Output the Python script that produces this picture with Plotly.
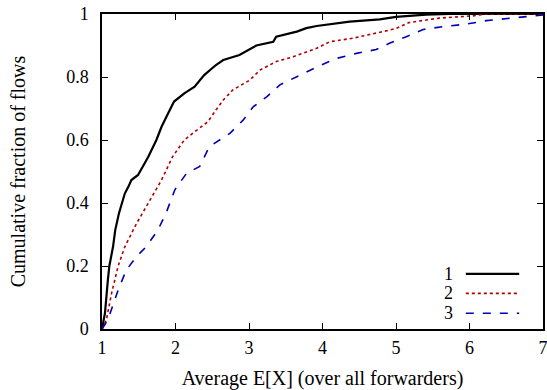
import plotly.graph_objects as go

# Curve 1 (black solid)
x1 = [1.0, 1.04, 1.08, 1.10, 1.15, 1.18, 1.23, 1.31, 1.36, 1.40, 1.49, 1.63, 1.74, 1.81, 1.90, 1.98,
      2.12, 2.26, 2.39, 2.55, 2.65, 2.87, 3.10, 3.33, 3.37, 3.65, 3.78, 3.92, 4.37, 4.78, 5.0, 5.41, 5.73, 7.0]
y1 = [0.0, 0.05, 0.156, 0.20, 0.261, 0.314, 0.367, 0.43, 0.452, 0.473, 0.489, 0.547, 0.60, 0.642, 0.685, 0.722,
      0.748, 0.769, 0.806, 0.838, 0.854, 0.87, 0.90, 0.912, 0.928, 0.944, 0.955, 0.962, 0.976, 0.983, 0.991, 0.998, 1.0, 1.0]

# Curve 2 (red dotted)
x2 = [1.0, 1.06, 1.13, 1.22, 1.31, 1.47, 1.63, 1.81, 1.96, 2.12, 2.26, 2.44, 2.55, 2.65, 2.78,
      3.01, 3.15, 3.37, 3.60, 3.92, 4.10, 4.41, 4.82, 5.0, 5.18, 5.59, 6.04, 6.23, 7.0]
y2 = [0.0, 0.029, 0.113, 0.20, 0.261, 0.335, 0.40, 0.473, 0.547, 0.60, 0.626, 0.658, 0.695, 0.727, 0.759,
      0.79, 0.822, 0.849, 0.864, 0.891, 0.912, 0.923, 0.944, 0.954, 0.973, 0.987, 0.994, 1.0, 1.0]

# Curve 3 (blue dashed)
x3 = [1.0, 1.08, 1.22, 1.33, 1.47, 1.60, 1.76, 1.87, 1.99, 2.02, 2.15, 2.33, 2.46, 2.74, 2.92,
      3.06, 3.24, 3.42, 3.65, 3.96, 4.19, 4.46, 4.73, 4.91, 5.14, 5.37, 5.64, 5.96, 6.23, 6.54, 6.86, 7.0]
y3 = [0.0, 0.029, 0.124, 0.187, 0.23, 0.261, 0.314, 0.367, 0.441, 0.452, 0.494, 0.516, 0.579, 0.621, 0.663,
      0.706, 0.737, 0.775, 0.801, 0.836, 0.859, 0.875, 0.887, 0.907, 0.928, 0.951, 0.96, 0.968, 0.979, 0.987, 0.995, 0.997]

labels = ["1", "2", "3"]
colors = ["#000000", "#b00000", "#0000b0"]
dashes = ["solid", "3px,3px", "8px,9px"]
widths = [2.2, 1.6, 1.6]

x_ticks = [1, 2, 3, 4, 5, 6, 7]
y_ticks = [0, 0.2, 0.4, 0.6, 0.8, 1]
y_ticktext = ["0", "0.2", "0.4", "0.6", "0.8", "1"]

font = "'Liberation Serif', 'Times New Roman', 'DejaVu Serif', serif"

fig = go.Figure()
for xs, ys, c, d, w, name in zip([x1, x2, x3], [y1, y2, y3], colors, dashes, widths, labels):
    fig.add_trace(go.Scatter(x=xs, y=ys, mode="lines", name=name,
                             line=dict(color=c, dash=d, width=w, shape="linear"),
                             showlegend=False, hoverinfo="skip"))

# Manual gnuplot-style legend (text left, sample right)
leg_y = [0.175, 0.113, 0.050]
for lab, c, d, w, ly in zip(labels, colors, dashes, widths, leg_y):
    fig.add_annotation(x=0.80, y=ly, xref="paper", yref="paper", text=lab, showarrow=False,
                       xanchor="right", yanchor="middle", font=dict(family=font, size=18, color="black"))
    fig.add_shape(type="line", xref="paper", yref="paper", x0=0.825, x1=0.946, y0=ly, y1=ly,
                  line=dict(color=c, dash=d, width=w))

axis_common = dict(
    showline=True, linecolor="black", linewidth=1.5, mirror="allticks",
    ticks="inside", ticklen=6, tickwidth=1.2, tickcolor="black",
    showgrid=False, zeroline=False, automargin=False,
    tickfont=dict(family=font, size=18, color="black"),
)

fig.update_layout(
    template="none",
    width=547, height=390,
    margin=dict(l=102, r=4, t=14, b=61),
    paper_bgcolor="white", plot_bgcolor="white",
    font=dict(family=font, color="black"),
    xaxis=dict(range=[1, 7], tickvals=x_ticks, ticklabelstandoff=2, ticklabeloverflow="allow",
               title=dict(text="Average E[X] (over all forwarders)", standoff=14,
                          font=dict(family=font, size=20, color="black")),
               **axis_common),
    yaxis=dict(range=[0, 1], tickvals=y_ticks, ticktext=y_ticktext, ticklabelstandoff=8,
               title=dict(text="Cumulative fraction of flows", standoff=35,
                          font=dict(family=font, size=20, color="black")),
               **axis_common),
)

fig.write_html("out.html", config={"displayModeBar": False},
               post_script="document.body.style.margin='0';document.body.style.overflow='hidden';")
